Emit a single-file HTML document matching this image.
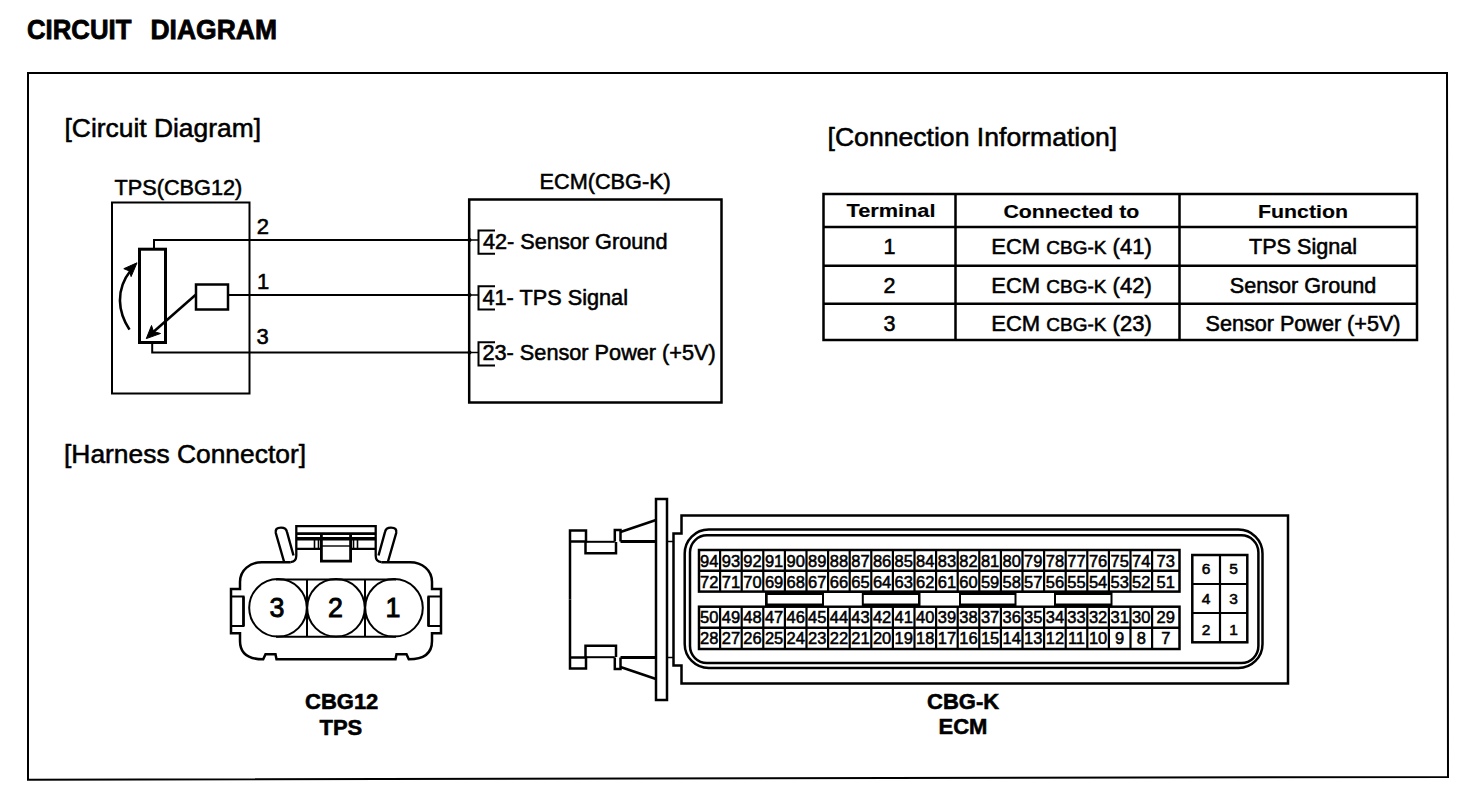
<!DOCTYPE html><html><head><meta charset="utf-8"><style>html,body{margin:0;padding:0;background:#fff;width:1472px;height:796px;overflow:hidden}svg{display:block}text{font-family:"Liberation Sans",sans-serif;fill:#000;stroke:#000;stroke-width:0.55px}</style></head><body>
<svg width="1472" height="796" viewBox="0 0 1472 796">
<rect x="0" y="0" width="1472" height="796" fill="#fff"/>
<g fill="none" stroke="#000" stroke-linecap="butt" stroke-linejoin="miter">
<text x="27" y="39" font-size="27.5" font-weight="bold" textLength="104.5" lengthAdjust="spacingAndGlyphs" style="stroke-width:0.8px">CIRCUIT</text>
<text x="150.5" y="39" font-size="27.5" font-weight="bold" textLength="126.5" lengthAdjust="spacingAndGlyphs" style="stroke-width:0.8px">DIAGRAM</text>
<path d="M28 73 L1447 73 L1448 777 L28 779.7 Z" stroke-width="2"/>
<text x="64.5" y="136.7" font-size="26.4" class="t">[Circuit Diagram]</text>
<text x="827.5" y="146.4" font-size="26.6" class="t">[Connection Information]</text>
<text x="64" y="463.2" font-size="26.4" class="t">[Harness Connector]</text>
<text x="114.5" y="195" font-size="21.7" class="t">TPS(CBG12)</text>
<rect x="112" y="202.5" width="137.5" height="191" stroke-width="2"/>
<rect x="139.5" y="249.2" width="26" height="93.3" stroke-width="3"/>
<path d="M154 249 V240 H469" stroke-width="2"/>
<path d="M152.2 342.5 V352.5 H469" stroke-width="2"/>
<path d="M228 295 H469" stroke-width="2"/>
<rect x="196" y="284.5" width="32" height="25" stroke-width="2.5"/>
<path d="M196 294.5 L151 334" stroke-width="2.5"/>
<path d="M146.3 338.6 L151.5 325.5 L153.5 331.5 L160.5 333.5 Z" fill="#000" stroke="#000" stroke-width="1"/>
<path d="M129.5 329.6 C118 312 115 290 131 270" stroke-width="2.6"/>
<path d="M137 262.8 L123.8 268.7 L129.5 271 L131.1 276.6 Z" fill="#000" stroke="#000" stroke-width="1"/>
<text x="256.8" y="233.8" font-size="22" class="t">2</text>
<text x="257" y="288.6" font-size="22" class="t">1</text>
<text x="256.5" y="344.2" font-size="22" class="t">3</text>
<text x="539.5" y="188.7" font-size="21.7" class="t">ECM(CBG-K)</text>
<rect x="469.2" y="199.5" width="252.3" height="203" stroke-width="2.5"/>
<circle cx="469.5" cy="240" r="2" fill="#000" stroke="none"/>
<path d="M469 240 H478.5" stroke-width="1.5"/>
<path d="M495 230.5 H478.5 V253.7 H495" stroke-width="2"/>
<circle cx="469.5" cy="295" r="2" fill="#000" stroke="none"/>
<path d="M469 295 H478.5" stroke-width="1.5"/>
<path d="M495 286.3 H478.5 V309.5 H495" stroke-width="2"/>
<circle cx="469.5" cy="352.5" r="2" fill="#000" stroke="none"/>
<path d="M469 352.5 H478.5" stroke-width="1.5"/>
<path d="M495 342.3 H478.5 V365.5 H495" stroke-width="2"/>
<text x="483" y="248.7" font-size="21.7" class="t">42- Sensor Ground</text>
<text x="482.5" y="305" font-size="21.7" class="t">41- TPS Signal</text>
<text x="482.5" y="359.7" font-size="21.7" class="t">23- Sensor Power (+5V)</text>
<rect x="823.5" y="194" width="593.5" height="146" stroke-width="2.5"/>
<path d="M955.5 194 V340 M1179.5 194 V340" stroke-width="2.5"/>
<path d="M823.5 227 H1417 M823.5 265.8 H1417 M823.5 303.7 H1417" stroke-width="2.5"/>
<text x="891" y="216.6" font-size="18.5" font-weight="bold" text-anchor="middle" textLength="89" lengthAdjust="spacingAndGlyphs" style="stroke-width:0.15px">Terminal</text>
<text x="1071.4" y="217.5" font-size="18.5" font-weight="bold" text-anchor="middle" textLength="136" lengthAdjust="spacingAndGlyphs" style="stroke-width:0.15px">Connected to</text>
<text x="1303" y="217.5" font-size="18.5" font-weight="bold" text-anchor="middle" textLength="90" lengthAdjust="spacingAndGlyphs" style="stroke-width:0.15px">Function</text>
<text x="889.5" y="254" font-size="21.5" text-anchor="middle" class="t">1</text>
<text x="1071.5" y="254" text-anchor="middle" class="t"><tspan font-size="22">ECM </tspan><tspan font-size="19">CBG-K</tspan><tspan font-size="22"> (41)</tspan></text>
<text x="1303" y="254" font-size="21.6" text-anchor="middle" class="t">TPS Signal</text>
<text x="889.5" y="292.5" font-size="21.5" text-anchor="middle" class="t">2</text>
<text x="1071.5" y="292.5" text-anchor="middle" class="t"><tspan font-size="22">ECM </tspan><tspan font-size="19">CBG-K</tspan><tspan font-size="22"> (42)</tspan></text>
<text x="1303" y="292.5" font-size="21.6" text-anchor="middle" class="t">Sensor Ground</text>
<text x="889.5" y="330.5" font-size="21.5" text-anchor="middle" class="t">3</text>
<text x="1071.5" y="330.5" text-anchor="middle" class="t"><tspan font-size="22">ECM </tspan><tspan font-size="19">CBG-K</tspan><tspan font-size="22"> (23)</tspan></text>
<text x="1303" y="330.5" font-size="21.6" text-anchor="middle" class="t">Sensor Power (+5V)</text>
<path d="M290.7 562.2 H262 C250 562.2 240 570 240 582 V589 H231 V633.2 H240 V641 Q240 659.3 263.2 659.3 L265.5 654.3 H275.5 L276.5 659.3 H395.5 L396.5 654.3 H406.5 L408.8 659.3 Q432 659.3 432 641 V633.2 H441 V589 H432 V582 C432 570 422 562.2 410 562.2 H381.3" stroke-width="2.5"/>
<path d="M231.5 596.5 H243.5 V626 H231.5" stroke-width="2"/>
<path d="M243.5 596.5 V626" stroke-width="2.6"/>
<path d="M440.5 596.5 H428.5 V626 H440.5" stroke-width="2"/>
<path d="M428.5 596.5 V626" stroke-width="2.6"/>
<path d="M276 579.6 H396 M276 636.7 H396 M307 579.6 V636.7 M365 579.6 V636.7" stroke-width="2"/>
<circle cx="278" cy="607.8" r="28.8" stroke-width="2"/>
<circle cx="336" cy="607.8" r="28.8" stroke-width="2"/>
<circle cx="394" cy="607.8" r="28.8" stroke-width="2"/>
<text x="269.5" y="616.8" font-size="26.8" style="stroke-width:0.9px">3</text>
<text x="328" y="616.8" font-size="26.8" style="stroke-width:0.9px">2</text>
<text x="385.5" y="616.8" font-size="26.8" style="stroke-width:0.9px">1</text>
<path d="M290.7 562.2 Q296.3 561.5 296.3 555.8 V526.2 H375.7 V555.8 Q375.7 561.5 381.3 562.2" stroke-width="2.3"/>
<path d="M296 533.6 H376" stroke-width="2.8"/>
<path d="M296 538.8 H376" stroke-width="3.4"/>
<path d="M296 548.8 H321 M351 548.8 H376" stroke-width="2.2"/>
<path d="M314.5 540 V548 M318.5 540 V548 M357.5 540 V548 M353.5 540 V548" stroke-width="1.6"/>
<path d="M321.4 534.7 V561.2 H350.6 V534.7" stroke-width="2.8"/>
<path d="M321 546 H351" stroke-width="1.4"/>
<path d="M284 561.5 L275.8 533 Q274.8 527.6 281 527.6 Q286.2 527.6 287 532 L293.5 555.5" stroke-width="2.4"/>
<path d="M284 561.5 L275.8 533 Q274.8 527.6 281 527.6 Q286.2 527.6 287 532 L293.5 555.5" stroke-width="2.4" transform="translate(672 0) scale(-1 1)"/>
<text x="305" y="709" font-size="22" font-weight="bold" class="t">CBG12</text>
<text x="319.5" y="734.7" font-size="22" font-weight="bold" class="t">TPS</text>
<path d="M570 599.5 V530.5 H586 V541.5 H570" stroke-width="2.5"/>
<path d="M585.5 542 V553.3 H616 V542" stroke-width="2.5"/>
<path d="M614.8 541.5 V530 H620.5 V541.5" stroke-width="2.5"/>
<path d="M586 541.8 H614.8" stroke-width="2"/>
<path d="M620.5 541.5 H656" stroke-width="3"/>
<path d="M667 541.5 H673.5" stroke-width="1.5"/>
<path d="M620.5 532 L656 520" stroke-width="2.5"/>
<path d="M570 599.5 V668.5 H586 V657.5 H570" stroke-width="2.5"/>
<path d="M585.5 657 V645.7 H616 V657" stroke-width="2.5"/>
<path d="M614.8 657.5 V669 H620.5 V657.5" stroke-width="2.5"/>
<path d="M586 657.2 H614.8" stroke-width="2"/>
<path d="M620.5 657.5 H656" stroke-width="3"/>
<path d="M667 657.5 H673.5" stroke-width="1.5"/>
<path d="M620.5 667 L656 679" stroke-width="2.5"/>
<rect x="656" y="499" width="11" height="201" stroke-width="2.5"/>
<path d="M681.5 515.5 H1288 V683.5 H681.5 V665.5 H673.5 V533.5 H681.5 Z" stroke-width="2.5"/>
<rect x="684.7" y="529.5" width="577.8" height="138.5" rx="24" ry="24" stroke-width="2.5"/>
<rect x="690" y="535.3" width="568.4" height="127.7" rx="17" ry="17" stroke-width="2.5"/>
<rect x="699" y="550" width="480.5" height="41.60000000000002" stroke-width="2.5"/>
<path d="M699 570.7 H1179.5" stroke-width="2.5"/>
<path d="M720.1 550 V591.6 M741.7 550 V591.6 M763.3 550 V591.6 M784.9 550 V591.6 M806.5 550 V591.6 M828.1 550 V591.6 M849.7 550 V591.6 M871.3 550 V591.6 M892.9 550 V591.6 M914.5 550 V591.6 M936.1 550 V591.6 M957.7 550 V591.6 M979.3 550 V591.6 M1000.9 550 V591.6 M1022.5 550 V591.6 M1044.1 550 V591.6 M1065.7 550 V591.6 M1087.3 550 V591.6 M1108.9 550 V591.6 M1130.5 550 V591.6 M1152.1 550 V591.6" stroke-width="2.2"/>
<rect x="699" y="606.7" width="480.5" height="42.299999999999955" stroke-width="2.5"/>
<path d="M699 627.8 H1179.5" stroke-width="2.5"/>
<path d="M720.1 606.7 V649 M741.7 606.7 V649 M763.3 606.7 V649 M784.9 606.7 V649 M806.5 606.7 V649 M828.1 606.7 V649 M849.7 606.7 V649 M871.3 606.7 V649 M892.9 606.7 V649 M914.5 606.7 V649 M936.1 606.7 V649 M957.7 606.7 V649 M979.3 606.7 V649 M1000.9 606.7 V649 M1022.5 606.7 V649 M1044.1 606.7 V649 M1065.7 606.7 V649 M1087.3 606.7 V649 M1108.9 606.7 V649 M1130.5 606.7 V649 M1152.1 606.7 V649" stroke-width="2.2"/>
<rect x="765" y="591" width="347.5" height="15.5" fill="#000" stroke="none"/>
<rect x="767.7" y="595" width="54.299999999999955" height="8.5" fill="#fff" stroke="none"/>
<rect x="863.8" y="595" width="54.200000000000045" height="8.5" fill="#fff" stroke="none"/>
<rect x="961" y="595" width="53.5" height="8.5" fill="#fff" stroke="none"/>
<rect x="1056" y="595" width="54.5" height="8.5" fill="#fff" stroke="none"/>
<rect x="824" y="593" width="37.799999999999955" height="12.5" fill="#fff" stroke="none"/>
<rect x="920.5" y="593" width="38.5" height="12.5" fill="#fff" stroke="none"/>
<rect x="1016.5" y="593" width="37.5" height="12.5" fill="#fff" stroke="none"/>
<text x="709.3" y="567" font-size="16.5" text-anchor="middle" class="t">94</text>
<text x="730.9" y="567" font-size="16.5" text-anchor="middle" class="t">93</text>
<text x="752.5" y="567" font-size="16.5" text-anchor="middle" class="t">92</text>
<text x="774.1" y="567" font-size="16.5" text-anchor="middle" class="t">91</text>
<text x="795.7" y="567" font-size="16.5" text-anchor="middle" class="t">90</text>
<text x="817.3" y="567" font-size="16.5" text-anchor="middle" class="t">89</text>
<text x="838.9" y="567" font-size="16.5" text-anchor="middle" class="t">88</text>
<text x="860.5" y="567" font-size="16.5" text-anchor="middle" class="t">87</text>
<text x="882.1" y="567" font-size="16.5" text-anchor="middle" class="t">86</text>
<text x="903.7" y="567" font-size="16.5" text-anchor="middle" class="t">85</text>
<text x="925.3" y="567" font-size="16.5" text-anchor="middle" class="t">84</text>
<text x="946.9" y="567" font-size="16.5" text-anchor="middle" class="t">83</text>
<text x="968.5" y="567" font-size="16.5" text-anchor="middle" class="t">82</text>
<text x="990.1" y="567" font-size="16.5" text-anchor="middle" class="t">81</text>
<text x="1011.7" y="567" font-size="16.5" text-anchor="middle" class="t">80</text>
<text x="1033.3" y="567" font-size="16.5" text-anchor="middle" class="t">79</text>
<text x="1054.9" y="567" font-size="16.5" text-anchor="middle" class="t">78</text>
<text x="1076.5" y="567" font-size="16.5" text-anchor="middle" class="t">77</text>
<text x="1098.1" y="567" font-size="16.5" text-anchor="middle" class="t">76</text>
<text x="1119.7" y="567" font-size="16.5" text-anchor="middle" class="t">75</text>
<text x="1141.3" y="567" font-size="16.5" text-anchor="middle" class="t">74</text>
<text x="1165.8" y="567" font-size="16.5" text-anchor="middle" class="t">73</text>
<text x="709.3" y="587.5" font-size="16.5" text-anchor="middle" class="t">72</text>
<text x="730.9" y="587.5" font-size="16.5" text-anchor="middle" class="t">71</text>
<text x="752.5" y="587.5" font-size="16.5" text-anchor="middle" class="t">70</text>
<text x="774.1" y="587.5" font-size="16.5" text-anchor="middle" class="t">69</text>
<text x="795.7" y="587.5" font-size="16.5" text-anchor="middle" class="t">68</text>
<text x="817.3" y="587.5" font-size="16.5" text-anchor="middle" class="t">67</text>
<text x="838.9" y="587.5" font-size="16.5" text-anchor="middle" class="t">66</text>
<text x="860.5" y="587.5" font-size="16.5" text-anchor="middle" class="t">65</text>
<text x="882.1" y="587.5" font-size="16.5" text-anchor="middle" class="t">64</text>
<text x="903.7" y="587.5" font-size="16.5" text-anchor="middle" class="t">63</text>
<text x="925.3" y="587.5" font-size="16.5" text-anchor="middle" class="t">62</text>
<text x="946.9" y="587.5" font-size="16.5" text-anchor="middle" class="t">61</text>
<text x="968.5" y="587.5" font-size="16.5" text-anchor="middle" class="t">60</text>
<text x="990.1" y="587.5" font-size="16.5" text-anchor="middle" class="t">59</text>
<text x="1011.7" y="587.5" font-size="16.5" text-anchor="middle" class="t">58</text>
<text x="1033.3" y="587.5" font-size="16.5" text-anchor="middle" class="t">57</text>
<text x="1054.9" y="587.5" font-size="16.5" text-anchor="middle" class="t">56</text>
<text x="1076.5" y="587.5" font-size="16.5" text-anchor="middle" class="t">55</text>
<text x="1098.1" y="587.5" font-size="16.5" text-anchor="middle" class="t">54</text>
<text x="1119.7" y="587.5" font-size="16.5" text-anchor="middle" class="t">53</text>
<text x="1141.3" y="587.5" font-size="16.5" text-anchor="middle" class="t">52</text>
<text x="1165.8" y="587.5" font-size="16.5" text-anchor="middle" class="t">51</text>
<text x="709.3" y="623" font-size="16.5" text-anchor="middle" class="t">50</text>
<text x="730.9" y="623" font-size="16.5" text-anchor="middle" class="t">49</text>
<text x="752.5" y="623" font-size="16.5" text-anchor="middle" class="t">48</text>
<text x="774.1" y="623" font-size="16.5" text-anchor="middle" class="t">47</text>
<text x="795.7" y="623" font-size="16.5" text-anchor="middle" class="t">46</text>
<text x="817.3" y="623" font-size="16.5" text-anchor="middle" class="t">45</text>
<text x="838.9" y="623" font-size="16.5" text-anchor="middle" class="t">44</text>
<text x="860.5" y="623" font-size="16.5" text-anchor="middle" class="t">43</text>
<text x="882.1" y="623" font-size="16.5" text-anchor="middle" class="t">42</text>
<text x="903.7" y="623" font-size="16.5" text-anchor="middle" class="t">41</text>
<text x="925.3" y="623" font-size="16.5" text-anchor="middle" class="t">40</text>
<text x="946.9" y="623" font-size="16.5" text-anchor="middle" class="t">39</text>
<text x="968.5" y="623" font-size="16.5" text-anchor="middle" class="t">38</text>
<text x="990.1" y="623" font-size="16.5" text-anchor="middle" class="t">37</text>
<text x="1011.7" y="623" font-size="16.5" text-anchor="middle" class="t">36</text>
<text x="1033.3" y="623" font-size="16.5" text-anchor="middle" class="t">35</text>
<text x="1054.9" y="623" font-size="16.5" text-anchor="middle" class="t">34</text>
<text x="1076.5" y="623" font-size="16.5" text-anchor="middle" class="t">33</text>
<text x="1098.1" y="623" font-size="16.5" text-anchor="middle" class="t">32</text>
<text x="1119.7" y="623" font-size="16.5" text-anchor="middle" class="t">31</text>
<text x="1141.3" y="623" font-size="16.5" text-anchor="middle" class="t">30</text>
<text x="1165.8" y="623" font-size="16.5" text-anchor="middle" class="t">29</text>
<text x="709.3" y="644" font-size="16.5" text-anchor="middle" class="t">28</text>
<text x="730.9" y="644" font-size="16.5" text-anchor="middle" class="t">27</text>
<text x="752.5" y="644" font-size="16.5" text-anchor="middle" class="t">26</text>
<text x="774.1" y="644" font-size="16.5" text-anchor="middle" class="t">25</text>
<text x="795.7" y="644" font-size="16.5" text-anchor="middle" class="t">24</text>
<text x="817.3" y="644" font-size="16.5" text-anchor="middle" class="t">23</text>
<text x="838.9" y="644" font-size="16.5" text-anchor="middle" class="t">22</text>
<text x="860.5" y="644" font-size="16.5" text-anchor="middle" class="t">21</text>
<text x="882.1" y="644" font-size="16.5" text-anchor="middle" class="t">20</text>
<text x="903.7" y="644" font-size="16.5" text-anchor="middle" class="t">19</text>
<text x="925.3" y="644" font-size="16.5" text-anchor="middle" class="t">18</text>
<text x="946.9" y="644" font-size="16.5" text-anchor="middle" class="t">17</text>
<text x="968.5" y="644" font-size="16.5" text-anchor="middle" class="t">16</text>
<text x="990.1" y="644" font-size="16.5" text-anchor="middle" class="t">15</text>
<text x="1011.7" y="644" font-size="16.5" text-anchor="middle" class="t">14</text>
<text x="1033.3" y="644" font-size="16.5" text-anchor="middle" class="t">13</text>
<text x="1054.9" y="644" font-size="16.5" text-anchor="middle" class="t">12</text>
<text x="1076.5" y="644" font-size="16.5" text-anchor="middle" class="t">11</text>
<text x="1098.1" y="644" font-size="16.5" text-anchor="middle" class="t">10</text>
<text x="1119.7" y="644" font-size="16.5" text-anchor="middle" class="t">9</text>
<text x="1141.3" y="644" font-size="16.5" text-anchor="middle" class="t">8</text>
<text x="1165.8" y="644" font-size="16.5" text-anchor="middle" class="t">7</text>
<rect x="1192.3" y="555" width="55" height="87.3" stroke-width="2.5"/>
<path d="M1220 555 V642.3 M1192.3 584 H1247.3 M1192.3 613 H1247.3" stroke-width="2.2"/>
<text x="1206" y="574" font-size="15.5" text-anchor="middle" class="t">6</text>
<text x="1233.5" y="574" font-size="15.5" text-anchor="middle" class="t">5</text>
<text x="1206" y="603.5" font-size="15.5" text-anchor="middle" class="t">4</text>
<text x="1233.5" y="603.5" font-size="15.5" text-anchor="middle" class="t">3</text>
<text x="1206" y="634.5" font-size="15.5" text-anchor="middle" class="t">2</text>
<text x="1233.5" y="634.5" font-size="15.5" text-anchor="middle" class="t">1</text>
<text x="927" y="709" font-size="22" font-weight="bold" class="t">CBG-K</text>
<text x="938.5" y="734" font-size="22" font-weight="bold" class="t">ECM</text>
</g></svg></body></html>
